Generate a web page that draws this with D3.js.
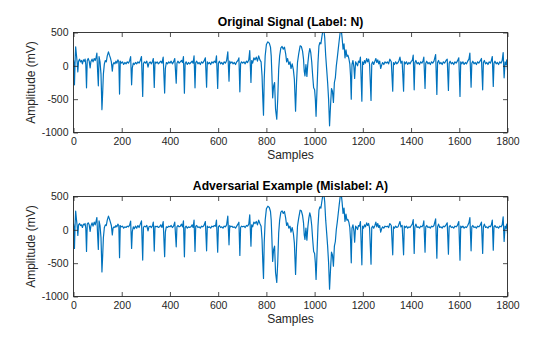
<!DOCTYPE html>
<html>
<head>
<meta charset="utf-8">
<script src="https://cdn.jsdelivr.net/npm/d3@7"></script>
<style>
  body { margin: 0; background: #fff; }
  svg { display: block; }
  text { font-family: "Liberation Sans", Arial, Helvetica, sans-serif; }
</style>
</head>
<body>
<svg id="fig" width="560" height="337"></svg>
<script>
// ECG trace vertices: sample number and amplitude in mV
const sampleIndex = [
  0,2,4,7,9,12,15,18,21,25,29,33,37,41,45,48,51,54,57,61,65,69,72,77,81,86,90,94,97,100,
  103,106,110,114,118,121,124,128,132,136,140,145,149,153,157,161,164,168,172,176,180,184,188,191,194,198,203,208,213,218,
  223,228,233,237,241,244,248,252,257,262,267,272,277,282,287,290,294,299,304,309,313,318,323,328,331,335,338,342,347,352,
  357,362,367,372,378,381,385,390,395,400,405,410,415,420,426,429,433,438,443,448,452,456,460,463,467,472,477,482,487,492,
  496,500,504,507,511,516,521,526,531,536,541,547,552,555,559,564,569,574,579,584,589,593,598,601,605,610,615,620,625,630,
  635,640,645,648,652,657,662,667,672,677,682,686,690,693,697,702,707,712,717,722,727,731,736,739,743,748,753,758,763,768,
  773,778,782,785,788,791,795,800,806,812,817,820,823,826,830,834,838,843,847,851,855,860,865,870,875,880,884,888,893,898,
  902,907,912,916,921,925,929,934,940,945,950,954,957,960,964,968,972,976,980,984,988,992,996,1000,1003,1006,1010,1014,1018,1022,
  1026,1030,1034,1038,1042,1046,1050,1054,1058,1062,1066,1070,1074,1078,1082,1086,1090,1094,1098,1102,1106,1110,1114,1118,1122,1126,1130,1134,1138,1142,
  1146,1149,1152,1155,1159,1163,1166,1170,1174,1178,1182,1186,1190,1196,1199,1203,1207,1211,1216,1220,1224,1228,1234,1237,1241,1245,1250,1254,1258,1262,
  1266,1270,1274,1278,1282,1287,1292,1297,1302,1307,1312,1318,1324,1327,1331,1336,1341,1346,1350,1354,1358,1363,1369,1372,1376,1381,1386,1391,1396,1401,
  1405,1409,1413,1416,1420,1425,1430,1435,1440,1445,1450,1453,1458,1461,1465,1470,1475,1480,1485,1490,1495,1502,1507,1510,1514,1519,1524,1529,1534,1539,
  1545,1550,1555,1558,1562,1567,1572,1577,1582,1587,1592,1598,1603,1606,1610,1615,1620,1625,1630,1635,1640,1644,1649,1652,1656,1661,1666,1671,1676,1681,
  1686,1692,1697,1700,1704,1709,1714,1719,1724,1729,1733,1737,1741,1744,1748,1753,1758,1763,1768,1773,1778,1782,1786,1790,1794,1797,1800
];

const originalMv = [
  90,40,-285,120,285,170,60,-90,70,100,60,80,30,90,70,100,20,-330,80,110,70,-30,60,100,60,110,80,130,190,-80,
  -300,140,60,-120,-657,-400,-120,30,80,60,150,210,160,120,60,-80,20,50,30,70,40,90,60,-423,70,40,60,20,50,30,
  60,40,80,137,-285,-30,40,20,50,30,60,40,80,140,-458,30,60,40,70,-20,40,60,30,70,110,-324,60,40,60,30,
  50,70,40,130,-408,-40,50,30,60,40,70,30,60,110,-260,40,70,40,60,80,50,140,-410,30,60,20,50,30,50,70,
  40,150,-330,50,70,30,50,20,60,40,70,120,-320,60,30,50,20,60,40,70,50,150,-340,40,70,30,50,20,60,40,
  80,210,-230,70,40,60,30,50,20,60,80,120,-390,30,60,40,60,30,70,50,90,230,-250,80,40,120,90,130,70,150,
  90,60,-150,-480,-740,-200,150,320,360,340,280,150,-150,-480,-300,-250,-650,-800,-500,-50,150,270,290,250,280,180,60,110,20,60,
  -40,30,-60,-200,-680,-250,50,180,300,290,220,100,-80,-150,20,-160,40,180,260,200,60,-150,-330,-360,-500,-757,-350,50,300,350,
  330,430,520,560,420,150,-50,-250,-500,-900,-600,-340,-380,-550,-250,-180,0,120,250,380,500,560,420,250,330,120,240,140,160,110,
  30,-150,-500,20,80,-20,-190,60,30,0,70,50,130,-530,60,20,80,40,110,60,100,20,-520,30,60,20,70,110,50,90,
  30,70,-40,10,50,20,60,40,60,30,100,60,-380,50,20,60,30,50,80,130,40,70,-380,60,30,60,20,50,30,70,
  80,160,-360,50,80,30,50,20,60,40,80,130,-340,40,70,30,50,20,60,40,70,170,-430,50,80,30,50,20,60,40,
  80,100,-370,40,70,30,50,20,60,40,70,120,-460,60,30,60,20,50,30,70,100,190,-320,40,70,30,50,20,60,40,
  70,110,-360,50,80,30,50,20,60,40,80,140,-310,40,70,30,50,20,60,40,80,200,-180,60,20,90,-60
];

// Perturbed copy of the trace, small offsets on top of the original beats
const adversarialMv = [
  95,35,-280,125,280,165,65,-85,75,95,65,75,35,85,75,95,25,-325,85,105,75,-25,55,105,55,115,75,135,185,-75,
  -295,135,65,-115,-632,-390,-115,35,75,65,145,205,165,115,65,-75,25,45,35,65,45,85,65,-418,65,45,55,25,45,35,
  55,45,75,132,-280,-25,45,15,55,25,65,35,85,135,-453,35,55,45,65,-15,45,55,35,65,115,-319,55,45,55,35,
  45,75,35,125,-403,-35,45,35,55,45,65,35,55,115,-255,45,65,45,55,85,45,135,-405,35,55,25,45,35,45,75,
  35,145,-325,55,65,35,45,25,55,45,65,125,-315,55,35,45,25,55,45,65,55,145,-335,45,65,35,45,25,55,45,
  75,205,-225,65,45,55,35,45,25,55,85,115,-385,35,55,45,55,35,65,55,85,225,-245,75,45,115,95,125,75,145,
  95,55,-145,-475,-730,-195,145,315,355,335,275,145,-145,-475,-295,-245,-640,-790,-495,-45,145,265,285,245,275,175,65,105,25,55,
  -35,35,-55,-195,-670,-245,55,175,295,285,215,105,-75,-145,25,-155,45,175,255,195,65,-145,-325,-355,-495,-745,-345,55,295,345,
  325,425,515,555,415,145,-45,-245,-495,-890,-595,-335,-375,-545,-245,-175,5,115,245,375,495,555,415,245,325,125,235,145,155,115,
  35,-145,-495,25,75,-15,-185,55,35,5,65,55,125,-525,55,25,75,45,105,65,95,25,-515,35,55,25,65,115,45,95,
  35,65,-35,15,45,25,55,45,55,35,95,65,-375,45,25,55,35,45,85,125,45,65,-375,55,35,55,25,45,35,65,
  85,155,-355,45,85,35,45,25,55,45,75,135,-335,45,65,35,45,25,55,45,65,165,-425,45,85,35,45,25,55,45,
  75,105,-365,45,65,35,45,25,55,45,65,125,-455,55,35,55,25,45,35,65,105,185,-315,45,65,35,45,25,55,45,
  65,115,-355,45,85,35,45,25,55,45,75,145,-305,45,65,35,45,25,55,45,75,195,-175,55,25,85,-55
];

const xTicks = [0, 200, 400, 600, 800, 1000, 1200, 1400, 1600, 1800];
const yTicks = [-1000, -500, 0, 500];
const panelTitles = ["Original Signal (Label: N)", "Adversarial Example (Mislabel: A)"];
const xLabel = "Samples";
const yLabel = "Amplitude (mV)";

const axisColor = "#262626";
const lineColor = "#0072BD";
const plainNumber = d => String(d);

const svg = d3.select("#fig");
const left = 73.5, right = 507.5;

const panels = [
  { top: 32.5, bottom: 132.5, values: originalMv, title: panelTitles[0] },
  { top: 196.5, bottom: 296.5, values: adversarialMv, title: panelTitles[1] }
];

const x = d3.scaleLinear().domain([0, 1800]).range([left, right]);

panels.forEach((p, i) => {
  const y = d3.scaleLinear().domain([-1000, 500]).range([p.bottom, p.top]);
  const g = svg.append("g");

  g.append("clipPath").attr("id", "clip" + i)
    .append("rect")
    .attr("x", left).attr("y", p.top)
    .attr("width", right - left).attr("height", p.bottom - p.top);

  const pts = sampleIndex.map((s, k) => [s, p.values[k]]);
  const line = d3.line().x(d => x(d[0])).y(d => y(d[1]));

  g.append("path")
    .attr("clip-path", `url(#clip${i})`)
    .attr("d", line(pts))
    .attr("fill", "none")
    .attr("stroke", lineColor)
    .attr("stroke-width", 1.2)
    .attr("stroke-linejoin", "round");

  const tick = 4.5;
  const styleAxis = sel => {
    sel.select(".domain").remove();
    sel.selectAll(".tick line").attr("stroke", axisColor).attr("stroke-width", 0.8);
    sel.selectAll(".tick text").attr("fill", axisColor).style("font-size", "10.5px")
      .style("font-family", '"Liberation Sans", Arial, sans-serif');
  };

  g.append("g").attr("transform", `translate(0,${p.bottom})`)
    .call(d3.axisBottom(x).tickValues(xTicks).tickFormat(plainNumber)
      .tickSizeInner(-tick).tickSizeOuter(0).tickPadding(5))
    .call(styleAxis);
  g.append("g").attr("transform", `translate(0,${p.top})`)
    .call(d3.axisTop(x).tickValues(xTicks).tickSizeInner(-tick).tickSizeOuter(0).tickFormat(""))
    .call(styleAxis);
  g.append("g").attr("transform", `translate(${left},0)`)
    .call(d3.axisLeft(y).tickValues(yTicks).tickFormat(plainNumber)
      .tickSizeInner(-tick).tickSizeOuter(0).tickPadding(5))
    .call(styleAxis);
  g.append("g").attr("transform", `translate(${right},0)`)
    .call(d3.axisRight(y).tickValues(yTicks).tickSizeInner(-tick).tickSizeOuter(0).tickFormat(""))
    .call(styleAxis);

  g.append("rect")
    .attr("x", left).attr("y", p.top)
    .attr("width", right - left).attr("height", p.bottom - p.top)
    .attr("fill", "none").attr("stroke", axisColor).attr("stroke-width", 0.9);

  g.append("text")
    .attr("x", (left + right) / 2).attr("y", p.top - 7)
    .attr("text-anchor", "middle")
    .style("font-size", "12.2px").style("font-weight", "bold")
    .attr("fill", "#000")
    .text(p.title);

  g.append("text")
    .attr("x", (left + right) / 2).attr("y", p.bottom + 26.5)
    .attr("text-anchor", "middle")
    .style("font-size", "12px")
    .attr("fill", axisColor)
    .text(xLabel);

  g.append("text")
    .attr("transform", `translate(35.3,${(p.top + p.bottom) / 2}) rotate(-90)`)
    .attr("text-anchor", "middle")
    .style("font-size", "12px")
    .attr("fill", axisColor)
    .text(yLabel);
});
</script>
</body>
</html>
